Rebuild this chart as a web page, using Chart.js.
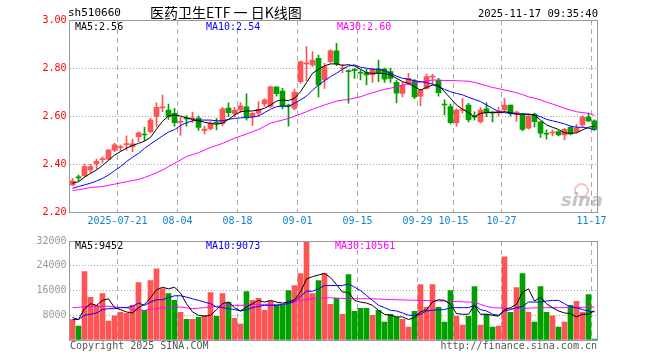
<!DOCTYPE html>
<html><head><meta charset="utf-8">
<script src="https://cdn.jsdelivr.net/npm/chart.js@4.4.1/dist/chart.umd.min.js"></script>
<style>
html,body{margin:0;padding:0;background:#fff;width:660px;height:360px;overflow:hidden;}
#wrap{position:relative;width:660px;height:360px;}
canvas{position:absolute;left:0;}
.t{position:absolute;font-family:"DejaVu Sans Mono",monospace;font-size:10px;line-height:12px;white-space:pre;color:#000;}
</style></head><body>
<div id="wrap">
<canvas id="k" width="660" height="232" style="top:0px"></canvas>
<canvas id="v" width="660" height="128" style="top:232px"></canvas>
<div class="t" style="left:68px;top:7px;font-size:11px">sh510660</div>
<div class="t" style="left:150px;top:3px;font-family:'Noto Sans CJK SC';font-size:14px;line-height:18px">医药卫生ETF 一 日K线图</div>
<div class="t" style="right:62px;top:7px;font-size:10.5px">2025-11-17 09:35:40</div>
<div class="t" id="pl0" style="left:75px;top:21px"></div>
<div class="t" id="pl1" style="left:206px;top:21px;color:#0000ff"></div>
<div class="t" id="pl2" style="left:337px;top:21px;color:#ff00ff"></div>
<div class="t" id="vl0" style="left:75px;top:240px"></div>
<div class="t" id="vl1" style="left:206px;top:240px;color:#0000ff"></div>
<div class="t" id="vl2" style="left:335px;top:240px;color:#ff00ff"></div>
<div style="position:absolute;left:574px;top:183px;width:11px;height:11px;border-radius:50%;border:2px solid rgba(240,150,150,0.55);"></div>
<div class="t" style="left:561px;top:190px;font-family:'DejaVu Sans';font-weight:bold;font-style:italic;font-size:18px;line-height:20px;color:rgba(150,150,150,0.55)">sina</div>
<div class="t" style="left:70px;top:340px;color:#555">Copyright 2025 SINA.COM</div>
<div class="t" style="right:63px;top:340px;color:#555">http://finance.sina.com.cn</div>
</div>
<script>
const dates = ['2025-07-09','2025-07-10','2025-07-11','2025-07-14','2025-07-15','2025-07-16','2025-07-17','2025-07-18','2025-07-21','2025-07-22',
'2025-07-23','2025-07-24','2025-07-25','2025-07-28','2025-07-29','2025-07-30','2025-07-31','2025-08-01','2025-08-04','2025-08-05',
'2025-08-06','2025-08-07','2025-08-08','2025-08-11','2025-08-12','2025-08-13','2025-08-14','2025-08-15','2025-08-18','2025-08-19',
'2025-08-20','2025-08-21','2025-08-22','2025-08-25','2025-08-26','2025-08-27','2025-08-28','2025-08-29','2025-09-01','2025-09-02',
'2025-09-03','2025-09-04','2025-09-05','2025-09-08','2025-09-09','2025-09-10','2025-09-11','2025-09-12','2025-09-15','2025-09-16',
'2025-09-17','2025-09-18','2025-09-19','2025-09-22','2025-09-23','2025-09-24','2025-09-25','2025-09-26','2025-09-29','2025-09-30',
'2025-10-09','2025-10-10','2025-10-13','2025-10-14','2025-10-15','2025-10-16','2025-10-17','2025-10-20','2025-10-21','2025-10-22',
'2025-10-23','2025-10-24','2025-10-27','2025-10-28','2025-10-29','2025-10-30','2025-10-31','2025-11-03','2025-11-04','2025-11-05',
'2025-11-06','2025-11-07','2025-11-10','2025-11-11','2025-11-12','2025-11-13','2025-11-14','2025-11-17'];
const tickIdx = [8,18,28,38,48,58,64,72,87];

const opens = [2.313,2.344,2.350,2.375,2.400,2.418,2.420,2.458,2.468,2.481,
2.472,2.514,2.524,2.535,2.597,2.634,2.625,2.611,2.574,2.590,
2.588,2.591,2.540,2.547,2.572,2.568,2.633,2.610,2.625,2.638,
2.597,2.612,2.650,2.640,2.722,2.704,2.643,2.632,2.743,2.817,
2.8125,2.840,2.750,2.826,2.872,2.797,2.787,2.791,2.780,2.780,
2.771,2.795,2.795,2.785,2.740,2.694,2.736,2.747,2.683,2.715,
2.762,2.750,2.648,2.639,2.572,2.623,2.646,2.597,2.576,2.630,
2.615,2.617,2.625,2.646,2.612,2.604,2.549,2.608,2.576,2.526,
2.529,2.535,2.521,2.553,2.535,2.5625,2.595,2.580];
const closes = [2.330,2.342,2.389,2.389,2.411,2.420,2.458,2.480,2.470,2.483,
2.484,2.530,2.521,2.583,2.636,2.636,2.597,2.572,2.576,2.588,
2.590,2.552,2.546,2.570,2.570,2.630,2.614,2.625,2.642,2.592,
2.611,2.628,2.667,2.722,2.693,2.640,2.641,2.700,2.826,2.819,
2.833,2.729,2.806,2.872,2.817,2.799,2.785,2.789,2.778,2.771,
2.795,2.780,2.753,2.757,2.695,2.729,2.757,2.680,2.708,2.764,
2.764,2.697,2.646,2.572,2.625,2.625,2.585,2.595,2.625,2.614,
2.613,2.619,2.646,2.611,2.614,2.544,2.600,2.576,2.528,2.524,
2.531,2.521,2.544,2.525,2.549,2.595,2.580,2.544];
const highs = [2.340,2.354,2.400,2.399,2.420,2.430,2.461,2.486,2.479,2.517,
2.504,2.535,2.553,2.590,2.655,2.687,2.650,2.632,2.595,2.602,
2.616,2.600,2.558,2.578,2.590,2.636,2.655,2.636,2.655,2.692,
2.614,2.660,2.672,2.725,2.722,2.715,2.650,2.712,2.830,2.889,
2.868,2.854,2.819,2.877,2.903,2.815,2.792,2.799,2.792,2.794,
2.800,2.833,2.800,2.800,2.750,2.740,2.778,2.753,2.710,2.775,
2.775,2.757,2.667,2.650,2.630,2.674,2.653,2.617,2.635,2.655,
2.617,2.636,2.674,2.646,2.620,2.610,2.604,2.612,2.576,2.542,
2.542,2.539,2.549,2.556,2.565,2.601,2.612,2.584];
const lows = [2.310,2.330,2.348,2.364,2.378,2.403,2.418,2.451,2.455,2.458,
2.451,2.493,2.497,2.530,2.555,2.618,2.586,2.558,2.519,2.558,
2.572,2.540,2.525,2.542,2.542,2.560,2.597,2.597,2.614,2.583,
2.560,2.600,2.640,2.636,2.683,2.630,2.558,2.625,2.736,2.747,
2.806,2.680,2.715,2.820,2.810,2.780,2.653,2.757,2.750,2.729,
2.740,2.743,2.740,2.740,2.655,2.680,2.730,2.672,2.642,2.712,
2.733,2.683,2.604,2.567,2.558,2.612,2.575,2.583,2.570,2.597,
2.575,2.600,2.620,2.600,2.577,2.538,2.545,2.555,2.511,2.503,
2.517,2.517,2.500,2.521,2.530,2.555,2.576,2.540];

const ma5 = [2.320,2.326,2.345,2.361,2.375,2.394,2.415,2.437,2.452,2.466,
2.477,2.486,2.495,2.511,2.545,2.578,2.600,2.604,2.600,2.592,
2.586,2.580,2.574,2.569,2.566,2.570,2.586,2.604,2.618,2.621,
2.621,2.625,2.632,2.646,2.662,2.667,2.664,2.674,2.701,2.739,
2.778,2.795,2.809,2.817,2.817,2.811,2.814,2.808,2.795,2.780,
2.778,2.778,2.777,2.772,2.757,2.743,2.736,2.722,2.708,2.719,
2.729,2.729,2.701,2.674,2.646,2.628,2.614,2.597,2.611,2.614,
2.614,2.614,2.618,2.614,2.608,2.608,2.608,2.604,2.583,2.563,
2.553,2.544,2.530,2.528,2.530,2.542,2.553,2.558];
const ma10 = [2.299,2.306,2.313,2.320,2.329,2.340,2.354,2.372,2.389,2.410,
2.428,2.444,2.465,2.483,2.500,2.517,2.533,2.543,2.560,2.572,
2.580,2.583,2.583,2.583,2.580,2.580,2.586,2.590,2.592,2.595,
2.595,2.600,2.614,2.628,2.639,2.642,2.639,2.653,2.667,2.683,
2.708,2.729,2.747,2.764,2.778,2.795,2.808,2.813,2.803,2.799,
2.795,2.795,2.789,2.778,2.766,2.757,2.753,2.747,2.743,2.739,
2.733,2.722,2.711,2.701,2.694,2.688,2.678,2.669,2.660,2.646,
2.632,2.618,2.614,2.611,2.608,2.608,2.607,2.604,2.597,2.586,
2.580,2.574,2.567,2.558,2.553,2.553,2.549,2.542];
const ma30 = [2.289,2.293,2.297,2.302,2.304,2.306,2.311,2.316,2.321,2.326,
2.331,2.336,2.344,2.353,2.364,2.375,2.389,2.403,2.417,2.431,
2.439,2.447,2.458,2.469,2.477,2.486,2.497,2.507,2.516,2.525,
2.535,2.544,2.557,2.570,2.577,2.583,2.590,2.599,2.608,2.618,
2.628,2.637,2.646,2.654,2.662,2.666,2.669,2.675,2.680,2.689,
2.697,2.704,2.711,2.716,2.722,2.728,2.734,2.738,2.742,2.746,
2.750,2.749,2.748,2.748,2.747,2.746,2.745,2.740,2.733,2.726,
2.719,2.714,2.708,2.703,2.697,2.689,2.680,2.674,2.667,2.658,
2.650,2.641,2.632,2.625,2.618,2.614,2.611,2.603];

const volumes = [6600,4480,22080,13760,11200,15040,6080,7790,8960,8640,
11200,18560,9600,19200,23040,16640,15040,12800,8960,6720,
6720,7360,8000,15360,7680,15040,12160,7040,5120,15680,
12800,13440,9600,12480,11200,11200,16000,17600,21440,31680,
15040,19200,21440,11520,13440,8320,21120,9280,10240,10240,
8000,9600,5760,8320,7360,6720,4160,9280,17920,10560,
17920,10560,5760,16000,7680,4800,7680,17280,4800,8320,
4160,4480,26880,8960,16960,21440,8960,5760,17280,8960,
7790,4160,5760,11200,12480,8960,14720,320];
const vma5 = [7253,6613,10133,11733,11200,12800,13333,10453,9813,9067,
8747,10453,11520,13653,16213,17067,16533,17067,15147,11733,
9067,8000,7680,8000,9813,11733,12267,10453,9387,10667,
11733,12800,12267,12800,12267,11947,12267,13013,15467,19733,
20480,21013,21547,20160,17920,15467,15467,12800,12267,11947,
11200,9600,8320,8000,7467,7467,6613,7253,9067,9813,
12267,13013,12800,11520,8533,8320,8320,11200,8320,8320,
8000,7680,9813,10453,11520,15467,16533,12587,13867,11733,
10453,9387,8747,8533,7467,8320,8320,9452];
const vma10 = [6613,6613,8000,8320,8747,9813,10133,10133,10453,10453,
10880,11947,11200,12267,13013,13013,13653,14293,14293,13867,
13333,12800,12267,11733,10667,10453,10133,9813,9387,9813,
10453,10880,11200,11200,11200,11520,11733,12587,14080,15787,
15787,16533,17600,17600,17600,17600,18133,17067,16000,14400,
12800,11200,10453,9600,9387,8747,8000,8000,8320,9387,
9600,9813,9813,10453,10453,10453,10453,11200,9813,9387,
8320,8000,9387,9813,10453,10880,12267,12267,12267,12587,
12800,12800,11733,10667,10453,9813,9387,9100];
const vma30 = [10450,10600,10750,10880,10880,10880,10880,10700,10550,10450,
9810,9700,9600,9900,10130,10300,10450,10550,10670,10400,
10130,10300,10450,10650,10880,11040,11200,11200,11200,11360,
11520,11520,11520,11520,11520,11620,11730,12270,12800,13070,
13330,13500,13650,13650,13550,13450,13330,13330,13330,13330,
13330,13250,13170,13090,13010,12960,12900,12850,12800,12750,
12700,12640,12590,12500,12420,12340,12270,12270,11500,10900,
10450,10370,10290,10210,10130,10210,10290,10370,10450,10450,
10450,10450,10450,10450,10450,10450,10880,10560];

const priceTicks = [2.2, 2.4, 2.6, 2.8, 3.0];
const volTicks = [0, 8000, 16000, 24000, 32000];
const priceMaLabels = ['MA5:2.56','MA10:2.54','MA30:2.60'];
const volMaLabels = ['MA5:9452','MA10:9073','MA30:10561'];

['pl0','pl1','pl2'].forEach((id,i)=>document.getElementById(id).textContent = priceMaLabels[i]);
['vl0','vl1','vl2'].forEach((id,i)=>document.getElementById(id).textContent = volMaLabels[i]);

const RED = '#ff5454', GREEN = '#00a000';
const candleColors = closes.map((c,i)=> c >= opens[i] ? RED : GREEN);
const MONO = 'DejaVu Sans Mono';
Chart.defaults.font.family = MONO;

const frame = {
  id:'frame',
  afterDraw(chart){
    const {ctx, chartArea:a} = chart;
    ctx.save();
    ctx.strokeStyle = '#999';
    ctx.lineWidth = 1;
    const t = Math.floor(a.top)+0.5, b = Math.floor(a.bottom)+0.5;
    ctx.strokeRect(a.left, t, a.right - a.left, b - t);
    ctx.restore();
  }
};

function xScale(showLabels){
  return {
    offset: true,
    grid: {offset: true, drawTicks: false, lineWidth: 1,
      color: c => (tickIdx.includes(c.index) ? '#aaa' : 'rgba(0,0,0,0)')},
    border: {display: false, dash: [5,4]},
    ticks: {display: showLabels, autoSkip: false, maxRotation: 0, minRotation: 0, padding: 3, labelOffset: -3,
      color: '#0d84cf', font: {family: MONO, size: 10},
      callback: (v,i) => tickIdx.includes(i) ? (i === tickIdx[0] ? dates[i] : dates[i].slice(5)) : ''},
    afterFit: s => { s.height = 20; }
  };
}
function line(data, color, order){
  return {type:'line', data, borderColor: color, borderWidth: 1, pointRadius: 0, tension: 0, fill: false, order};
}

new Chart(document.getElementById('k'), {
  type: 'bar',
  data: {
    labels: dates,
    datasets: [
      line(ma5, '#000000', -3),
      line(ma10, '#0000ff', -2),
      line(ma30, '#ff00ff', -1),
      {data: opens.map((o,i)=>[o, closes[i]]), backgroundColor: candleColors, barThickness: 5, minBarLength: 1, grouped: false, order: 1},
      {data: lows.map((l,i)=>[l, highs[i]]), backgroundColor: candleColors, barThickness: 1, grouped: false, order: 2}
    ]
  },
  options: {
    responsive: false, animation: false, devicePixelRatio: 1,
    layout: {padding: {left: 0, right: 62.5, top: 20, bottom: 0}},
    plugins: {legend: {display: false}, tooltip: {enabled: false}},
    scales: {
      x: xScale(true),
      y: {
        min: priceTicks[0], max: priceTicks[priceTicks.length-1],
        afterBuildTicks: s => { s.ticks = priceTicks.map(v => ({value: v})); },
        ticks: {padding: 3, color: '#ff0000', font: {family: MONO, size: 10}, callback: v => Number(v).toFixed(2)},
        grid: {drawTicks: false, color: c => (c.tick && c.tick.value > priceTicks[0] + 1e-6 && c.tick.value < priceTicks[priceTicks.length-1] - 1e-6) ? '#aaa' : 'rgba(0,0,0,0)'},
        border: {display: false, dash: [1,2]},
        afterFit: s => { s.width = 69.5; }
      }
    }
  },
  plugins: [frame]
});

new Chart(document.getElementById('v'), {
  type: 'bar',
  data: {
    labels: dates,
    datasets: [
      line(vma5, '#000000', -3),
      line(vma10, '#0000ff', -2),
      line(vma30, '#ff00ff', -1),
      {data: volumes, backgroundColor: candleColors, barThickness: 5, minBarLength: 1, grouped: false, order: 1}
    ]
  },
  options: {
    responsive: false, animation: false, devicePixelRatio: 1,
    layout: {padding: {left: 0, right: 62.5, top: 8, bottom: 0}},
    plugins: {legend: {display: false}, tooltip: {enabled: false}},
    scales: {
      x: xScale(false),
      y: {
        min: volTicks[0], max: volTicks[volTicks.length-1],
        afterBuildTicks: s => { s.ticks = volTicks.map(v => ({value: v})); },
        ticks: {padding: 3, color: '#999', font: {family: MONO, size: 10}, callback: v => v === 0 ? '' : String(v)},
        grid: {drawTicks: false, color: c => (c.tick && c.tick.value > 0 && c.tick.value < volTicks[volTicks.length-1]) ? '#aaa' : 'rgba(0,0,0,0)'},
        border: {display: false, dash: [1,2]},
        afterFit: s => { s.width = 69.5; }
      }
    }
  },
  plugins: [frame]
});
</script>
</body></html>
